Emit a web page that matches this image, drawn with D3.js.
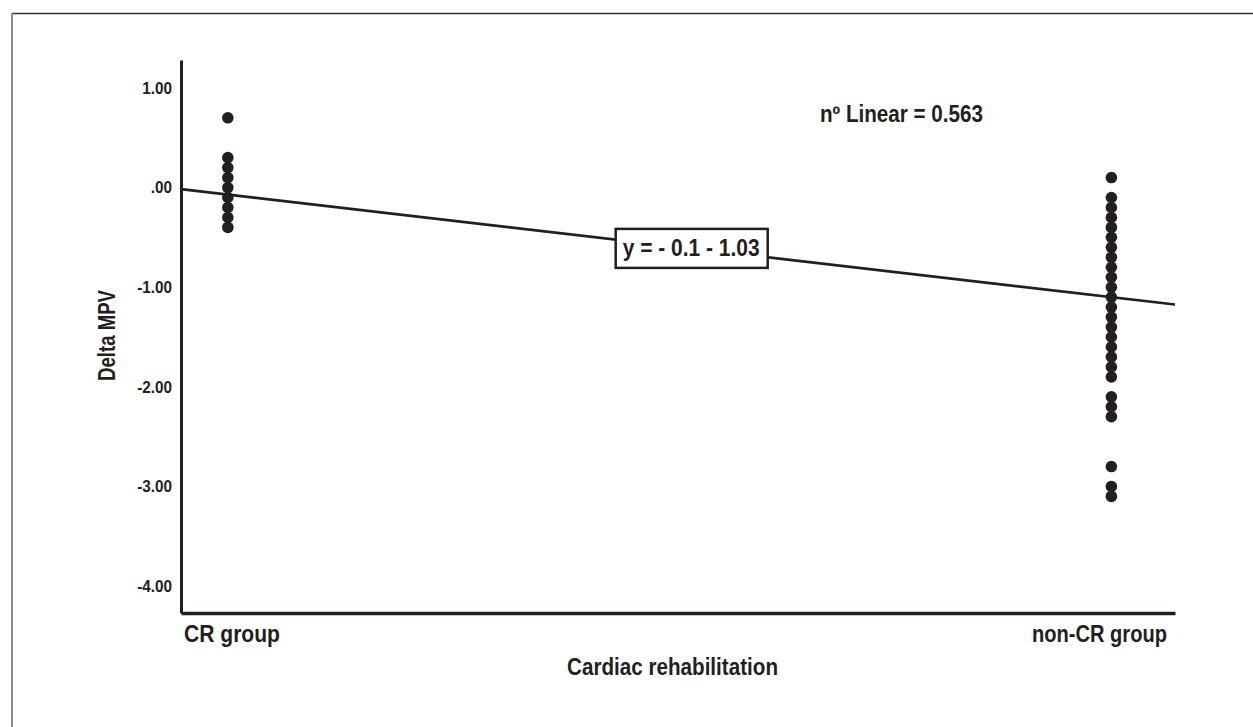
<!DOCTYPE html>
<html>
<head>
<meta charset="utf-8">
<script src="https://cdn.jsdelivr.net/npm/d3@7"></script>
<style>
  body { margin: 0; background: #fff; }
  text { font-family: "Liberation Sans", Arial, sans-serif; font-weight: bold; fill: #231f20; }
</style>
</head>
<body>
<script>
"use strict";

var categories = ["CR group", "non-CR group"];
var categoryCodes = [1, 2];
var crValues = [0.7, 0.3, 0.2, 0.1, 0.0, -0.1, -0.2, -0.3, -0.4];
var nonCrValues = [0.1, -0.1, -0.2, -0.3, -0.4, -0.5, -0.6, -0.7, -0.8, -0.9, -1.0,
  -1.1, -1.2, -1.3, -1.4, -1.5, -1.6, -1.7, -1.8, -1.9, -2.1, -2.2, -2.3, -2.8, -3.0, -3.1];
var yTicks = [1, 0, -1, -2, -3, -4];
var fitIntercept = 0.96;
var fitSlope = -1.03;
var fitLabel = "y = - 0.1 - 1.03";
var r2Label = "nº Linear = 0.563";

var width = 1253, height = 727;
var ink = "#231f20";

var svg = d3.select("body")
  .append("svg")
  .attr("width", width)
  .attr("height", height);

// outer frame (only top + left edge show)
svg.append("line")
  .attr("x1", 12).attr("x2", width).attr("y1", 13.5).attr("y2", 13.5)
  .attr("stroke", "#333").attr("stroke-width", 1.5);
svg.append("line")
  .attr("x1", 12).attr("x2", 12).attr("y1", 13).attr("y2", height)
  .attr("stroke", "#8c8c8c").attr("stroke-width", 2);

var x = d3.scaleLinear().domain([0.947, 2.072]).range([181, 1175]);
var y = d3.scaleLinear().domain([-4.27, 1.28]).range([613, 60]);

// narrow text: squeeze to a set width
function label(sel, len) {
  return sel.attr("textLength", len).attr("lengthAdjust", "spacingAndGlyphs");
}

// points
var points = [];
crValues.forEach(function (v) { points.push({ c: categoryCodes[0], v: v }); });
nonCrValues.forEach(function (v) { points.push({ c: categoryCodes[1], v: v }); });

svg.append("g")
  .selectAll("circle")
  .data(points)
  .enter()
  .append("circle")
  .attr("cx", function (d) { return x(d.c); })
  .attr("cy", function (d) { return y(d.v); })
  .attr("r", 5.8)
  .attr("fill", ink);

// fit line
var xd = x.domain();
svg.append("line")
  .attr("x1", x(xd[0])).attr("y1", y(fitIntercept + fitSlope * xd[0]))
  .attr("x2", x(xd[1])).attr("y2", y(fitIntercept + fitSlope * xd[1]))
  .attr("stroke", ink)
  .attr("stroke-width", 2.7);

// axes
var yAxis = d3.axisLeft(y)
  .tickValues(yTicks)
  .tickSize(0)
  .tickPadding(9)
  .tickFormat(function (d) { return d === 0 ? ".00" : d.toFixed(2); });

var gy = svg.append("g")
  .attr("transform", "translate(181,0)")
  .call(yAxis);
gy.select(".domain").attr("stroke", ink).attr("stroke-width", 3);
gy.selectAll("text")
  .attr("font-size", 17)
  .style("font-family", "'Liberation Sans', Arial, sans-serif")
  .style("font-weight", "bold")
  .attr("fill", ink)
  .each(function () {
    var t = d3.select(this);
    label(t, this.getComputedTextLength() * 0.9);
  });

var xAxis = d3.axisBottom(x).tickValues([]).tickSize(0);
var gx = svg.append("g")
  .attr("transform", "translate(0,613)")
  .call(xAxis);
gx.select(".domain").attr("stroke", ink).attr("stroke-width", 3.5);

// category labels at axis ends
label(svg.append("text")
  .attr("x", 184).attr("y", 642)
  .attr("font-size", 23.5)
  .text(categories[0]), 96);
label(svg.append("text")
  .attr("x", 1032).attr("y", 642)
  .attr("font-size", 23.5)
  .text(categories[1]), 135);

// axis titles
label(svg.append("text")
  .attr("x", 567).attr("y", 675)
  .attr("font-size", 23.5)
  .text("Cardiac rehabilitation"), 211);
label(svg.append("text")
  .attr("transform", "translate(115,381) rotate(-90)")
  .attr("font-size", 23)
  .text("Delta MPV"), 91);

// R² annotation
label(svg.append("text")
  .attr("x", 820).attr("y", 122)
  .attr("font-size", 23)
  .text(r2Label), 163);

// fit equation box
var bx = 1.525;
var by = y(fitIntercept + fitSlope * bx);
var box = svg.append("g").attr("transform", "translate(" + x(bx) + "," + by + ")");
box.append("rect")
  .attr("x", -76).attr("y", -19.5)
  .attr("width", 152).attr("height", 39)
  .attr("fill", "#fff")
  .attr("stroke", ink)
  .attr("stroke-width", 2.5);
label(box.append("text")
  .attr("x", -69).attr("y", 7.5)
  .attr("font-size", 23)
  .text(fitLabel), 137);
</script>
</body>
</html>
